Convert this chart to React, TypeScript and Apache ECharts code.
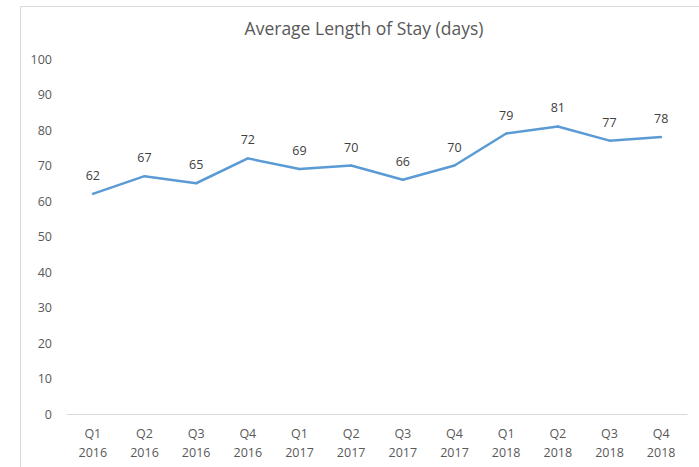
import React, { useEffect, useRef } from "react";
import * as echarts from "echarts";

const quarters = ["Q1", "Q2", "Q3", "Q4", "Q1", "Q2", "Q3", "Q4", "Q1", "Q2", "Q3", "Q4"];
const years = ["2016", "2016", "2016", "2016", "2017", "2017", "2017", "2017", "2018", "2018", "2018", "2018"];
const categories = quarters.map((q, i) => q + "\n" + years[i]);
const stayValues = [62, 67, 65, 72, 69, 70, 66, 70, 79, 81, 77, 78];

export default function App() {
  const ref = useRef<HTMLDivElement>(null);
  useEffect(() => {
    if (!ref.current) return;
    const chart = echarts.init(ref.current, null, { renderer: "svg" });
    const font = "'Open Sans', 'Liberation Sans', sans-serif";
    chart.setOption({
      animation: false,
      backgroundColor: "#ffffff",
      title: {
        text: "Average Length of Stay (days)",
        left: 359,
        top: 14,
        textAlign: "center",
        textStyle: { fontFamily: font, fontSize: 17.5, fontWeight: "normal", color: "#595959" },
      },
      graphic: [
        {
          type: "rect",
          shape: { x: 20.5, y: 6.5, width: 720, height: 520 },
          style: { fill: "none", stroke: "#d9d9d9", lineWidth: 1 },
          silent: true,
        },
      ],
      grid: { left: 67, right: 12, top: 59, bottom: 53, containLabel: false },
      xAxis: {
        type: "category",
        data: categories,
        boundaryGap: true,
        axisLine: { lineStyle: { color: "#d9d9d9", width: 1 } },
        axisTick: { show: false },
        axisLabel: { fontFamily: font, fontSize: 12.5, color: "#595959", lineHeight: 19, margin: 10, interval: 0 },
      },
      yAxis: {
        type: "value",
        min: 0,
        max: 100,
        interval: 10,
        axisLine: { show: false },
        axisTick: { show: false },
        splitLine: { show: false },
        axisLabel: { fontFamily: font, fontSize: 12.5, color: "#595959", margin: 15 },
      },
      series: [
        {
          type: "line",
          data: stayValues,
          symbol: "circle",
          symbolSize: 2,
          showSymbol: true,
          lineStyle: { color: "#5B9BD5", width: 2.5 },
          itemStyle: { color: "#5B9BD5" },
          label: {
            show: true,
            position: "top",
            distance: 11,
            fontFamily: font,
            fontSize: 12.5,
            color: "#404040",
          },
        },
      ],
    });
    return () => chart.dispose();
  }, []);
  return <div ref={ref} style={{ position: "fixed", left: 0, top: 0, width: 699, height: 467 }} />;
}
